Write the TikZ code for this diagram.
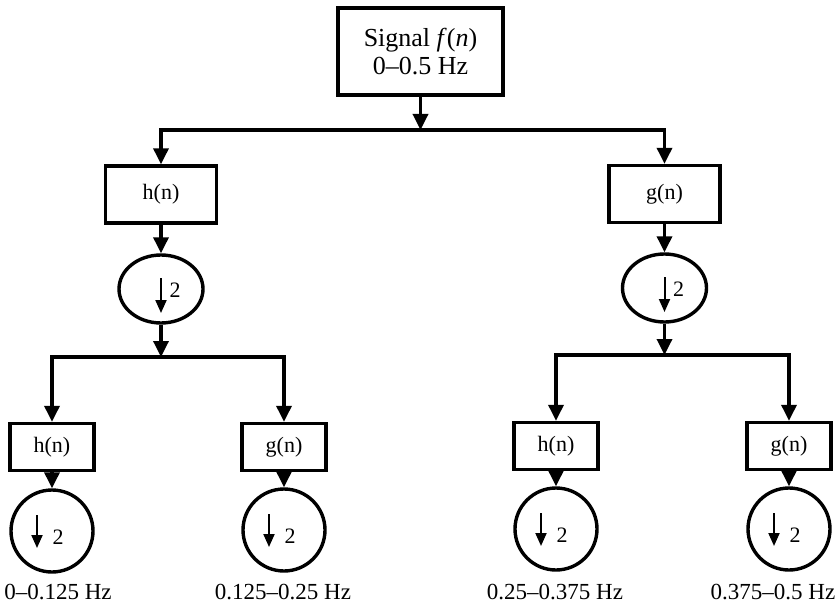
\documentclass[tikz,border=0pt]{standalone}
\usepackage{fontspec}
\setmainfont{Liberation Serif}
\usetikzlibrary{arrows.meta,shapes.geometric,positioning,calc}
\tikzset{
  filt/.style={draw, line width=1.7pt, minimum width=55.5pt, minimum height=28.5pt, inner sep=0pt, font=\fontsize{11}{12}\selectfont},
  filts/.style={filt, minimum width=42pt, minimum height=23.5pt},
  down/.style={draw, ellipse, line width=1.7pt, minimum width=42pt, minimum height=34pt, inner sep=0pt},
  downs/.style={draw, circle, line width=1.7pt, minimum size=41pt, inner sep=0pt},
  flow/.style={-{Triangle[width=7.5pt,length=8pt]}, line width=1.7pt},
  dec/.style={-{Triangle[width=5.5pt,length=6.5pt]}, line width=1pt},
  two/.style={font=\fontsize{11}{12}\selectfont, inner sep=0pt},
  band/.style={font=\fontsize{11.5}{13}\selectfont}
}
\begin{document}
\begin{tikzpicture}[x=0.5pt,y=-0.5pt]
\useasboundingbox (0,0) rectangle (835,610);
% Input signal
\node[draw, line width=1.7pt, minimum width=82.5pt, minimum height=43.5pt, align=center, font=\fontsize{13}{14}\selectfont] (sig) at (420.5,51.5) {Signal \textit{f}(\textit{n})\\0--0.5 Hz};
\coordinate (s0) at (420.5,130);
\draw[flow] (sig) -- (s0);
% First level
\node[filt] (h1) at (161,194.5) {h(n)};
\node[filt] (g1) at (664.5,194) {g(n)};
\draw[flow] (s0) -| (h1);
\draw[flow] (s0) -| (g1);
\node[down] (d1) at (161,289) {};
\node[down] (d2) at (664.5,288) {};
\draw[flow] (h1) -- (d1);
\draw[flow] (g1) -- (d2);
\foreach \d in {d1,d2} {
  \draw[dec] ($(\d.center)+(0,-11)$) -- ($(\d.center)+(0,24)$);
  \node[two] (t\d) at ($(\d.center)+(14,1)$) {2};
}
\coordinate (s1) at (161,357);
\coordinate (s2) at (664.5,355);
\draw[flow] (d1) -- (s1);
\draw[flow] (d2) -- (s2);
% Second level
\foreach \n/\x/\y/\f/\s in {hh/52/447/h/s1, hg/284/447/g/s1, gh/556/446/h/s2, gg/789/446/g/s2} {
  \node[filts] (\n) at (\x,\y) {\f(n)};
  \draw[flow] (\s) -| (\n);
}
% Decimators and bands
\foreach \n/\y/\lx/\l in {hh/531/58/0--0.125 Hz, hg/530/283/0.125--0.25 Hz, gh/529/555/0.25--0.375 Hz, gg/529/773/0.375--0.5 Hz} {
  \node[downs] (c\n) at (\n |- 0,\y) {};
  \draw[flow] (\n) -- (c\n);
  \draw[dec] ($(c\n.center)+(-15,-16)$) -- ($(c\n.center)+(-15,17)$);
  \node[two] (t\n) at ($(c\n.center)+(6,6)$) {2};
  \node[band] (b\n) at (\lx,592) {\l};
}
\end{tikzpicture}
\end{document}
